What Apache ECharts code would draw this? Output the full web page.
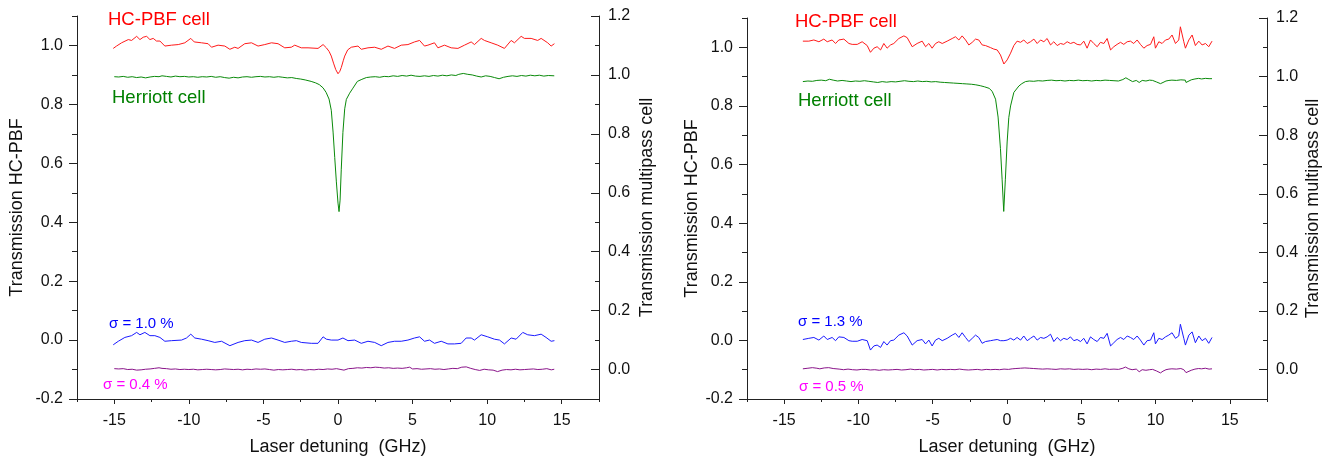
<!DOCTYPE html>
<html>
<head>
<meta charset="utf-8">
<script src="https://cdn.jsdelivr.net/npm/echarts@6/dist/echarts.min.js"></script>
<style>
  html, body { margin: 0; padding: 0; background: #fff; }
  #chart { width: 1330px; height: 461px; }
</style>
</head>
<body>
<div id="chart"></div>
<script>
// ---- data (x in GHz, y transmission) ----
const leftHcpbf = [[-15.07,0.990],[-14.85,0.998],[-14.51,1.009],[-14.06,1.020],[-13.84,1.017],[-13.5,1.031],[-13.28,1.020],[-13.06,1.028],[-12.83,1.031],[-12.61,1.020],[-12.39,1.024],[-12.17,1.015],[-11.94,1.015],[-11.61,0.998],[-11.16,1.001],[-10.71,1.003],[-10.27,1.009],[-9.87,1.024],[-9.64,1.012],[-9.15,1.009],[-8.71,1.006],[-8.48,0.994],[-8.04,1.001],[-7.59,0.998],[-7.25,0.987],[-6.92,0.994],[-6.70,0.990],[-6.25,1.006],[-5.80,1.009],[-5.36,0.998],[-4.91,1.003],[-4.46,1.009],[-4.02,1.006],[-3.57,0.992],[-3.13,0.994],[-2.90,1.001],[-2.46,0.992],[-2.01,0.992],[-1.34,0.990],[-1.00,1.003],[-0.78,0.992],[-0.6,0.980],[-0.45,0.964],[-0.3,0.940],[-0.15,0.918],[0.0,0.904],[0.12,0.912],[0.22,0.925],[0.35,0.948],[0.45,0.964],[0.65,0.985],[0.89,0.994],[1.34,0.998],[1.56,0.987],[2.01,0.992],[2.46,0.994],[2.90,0.987],[3.35,0.998],[3.79,0.990],[4.24,1.001],[4.69,1.003],[5.13,1.012],[5.47,1.017],[5.80,0.998],[6.03,1.001],[6.47,1.009],[6.70,0.992],[7.14,1.001],[7.59,0.992],[8.04,0.990],[8.48,1.001],[8.93,1.012],[9.15,1.003],[9.60,1.024],[9.82,1.017],[10.27,1.009],[10.71,1.001],[11.16,0.990],[11.61,1.017],[11.83,1.009],[12.28,1.031],[12.5,1.024],[12.95,1.024],[13.39,1.017],[13.62,1.024],[14.06,1.009],[14.29,0.998],[14.51,1.006]];

const leftHcpbfResidual = [[-15.07,-0.016],[-14.73,-0.004],[-14.29,0.009],[-13.84,0.015],[-13.5,0.026],[-13.28,0.018],[-12.95,0.026],[-12.61,0.015],[-12.28,0.015],[-11.94,0.009],[-11.61,-0.004],[-11.16,-0.002],[-10.49,0.0],[-10.16,0.007],[-9.87,0.020],[-9.6,0.007],[-9.15,0.003],[-8.71,-0.002],[-8.26,-0.008],[-7.81,-0.004],[-7.25,-0.019],[-6.70,-0.008],[-6.25,-0.002],[-5.80,0.0],[-5.36,-0.008],[-4.91,0.003],[-4.46,0.007],[-4.02,0.0],[-3.57,-0.008],[-3.13,-0.004],[-2.79,-0.002],[-2.46,-0.008],[-1.79,-0.011],[-1.34,-0.011],[-1.0,0.011],[-0.78,0.003],[-0.45,0.0],[0.0,0.0],[0.33,0.007],[0.67,-0.002],[1.12,0.0],[1.56,-0.011],[2.01,-0.004],[2.46,-0.008],[2.90,-0.019],[3.35,-0.008],[3.79,-0.004],[4.24,-0.004],[4.69,0.0],[5.13,0.007],[5.47,0.011],[5.80,-0.004],[6.14,0.0],[6.47,-0.011],[6.92,-0.004],[7.37,-0.013],[7.81,-0.013],[8.26,-0.011],[8.59,0.007],[8.93,0.007],[9.15,0.0],[9.6,0.018],[10.04,0.011],[10.49,0.003],[10.83,0.0],[11.16,-0.013],[11.61,0.007],[11.94,0.003],[12.39,0.026],[12.72,0.018],[13.17,0.015],[13.62,0.020],[13.95,0.009],[14.29,-0.004],[14.51,-0.002]];

const leftHerriott = [[-15.0,0.994],[-14.7,0.993],[-14.4,0.995],[-14.1,0.992],[-13.8,0.994],[-13.5,0.991],[-13.2,0.993],[-12.9,0.990],[-12.6,0.993],[-12.3,0.995],[-12.0,0.994],[-11.8,0.997],[-11.5,0.995],[-11.2,0.993],[-10.9,0.996],[-10.6,0.994],[-10.3,0.995],[-10.0,0.993],[-9.7,0.994],[-9.4,0.992],[-9.1,0.994],[-8.8,0.993],[-8.5,0.995],[-8.2,0.992],[-7.9,0.994],[-7.6,0.991],[-7.3,0.989],[-7.0,0.992],[-6.7,0.990],[-6.4,0.993],[-6.1,0.994],[-5.8,0.992],[-5.5,0.994],[-5.2,0.995],[-4.9,0.993],[-4.6,0.994],[-4.3,0.992],[-4.0,0.994],[-3.7,0.992],[-3.4,0.990],[-3.1,0.991],[-2.8,0.988],[-2.5,0.986],[-2.2,0.983],[-1.8,0.978],[-1.5,0.973],[-1.25,0.967],[-1.0,0.956],[-0.8,0.941],[-0.6,0.918],[-0.45,0.88],[-0.33,0.806],[-0.22,0.72],[-0.11,0.637],[0.0,0.565],[0.07,0.536],[0.14,0.575],[0.22,0.68],[0.33,0.805],[0.45,0.885],[0.56,0.917],[0.78,0.938],[1.0,0.955],[1.3,0.978],[1.6,0.985],[1.9,0.991],[2.2,0.993],[2.5,0.994],[2.8,0.992],[3.1,0.995],[3.4,0.994],[3.7,0.997],[4.0,0.995],[4.3,0.998],[4.6,0.996],[4.9,0.999],[5.2,0.996],[5.5,0.995],[5.8,0.997],[6.1,0.995],[6.4,0.998],[6.7,0.996],[7.0,0.999],[7.3,0.997],[7.6,1.000],[7.9,0.998],[8.1,1.002],[8.4,1.005],[8.7,1.002],[9.0,1.000],[9.3,0.996],[9.6,0.993],[9.9,0.997],[10.2,0.995],[10.5,0.991],[10.8,0.987],[11.1,0.992],[11.4,0.995],[11.7,0.997],[12.0,0.995],[12.3,0.998],[12.6,0.996],[12.9,0.999],[13.2,0.997],[13.5,0.999],[13.8,0.996],[14.1,0.998],[14.5,0.997]];

const leftHerriottResidual = [[-15.0,0.003],[-14.7,0.002],[-14.4,0.003],[-14.1,0.000],[-13.8,0.001],[-13.5,-0.002],[-13.2,-0.001],[-12.9,0.001],[-12.6,0.002],[-12.3,0.004],[-12.0,0.006],[-11.8,0.004],[-11.5,0.003],[-11.2,0.001],[-10.9,0.002],[-10.6,0.000],[-10.3,0.001],[-10.0,0.000],[-9.7,0.001],[-9.4,-0.001],[-9.1,0.000],[-8.8,0.001],[-8.5,0.000],[-8.2,-0.001],[-7.9,0.000],[-7.6,0.002],[-7.3,0.001],[-7.0,0.000],[-6.7,0.001],[-6.4,-0.001],[-6.1,0.001],[-5.8,0.000],[-5.5,0.002],[-5.2,0.001],[-4.9,0.002],[-4.6,0.000],[-4.3,-0.002],[-4.0,0.000],[-3.7,-0.001],[-3.4,0.000],[-3.1,0.001],[-2.8,-0.001],[-2.5,0.000],[-2.2,-0.002],[-1.9,0.000],[-1.6,-0.001],[-1.3,0.001],[-1.0,0.000],[-0.7,0.002],[-0.4,0.001],[-0.1,0.003],[0.2,0.000],[0.4,-0.002],[0.7,0.003],[1.0,0.004],[1.3,0.006],[1.6,0.005],[1.9,0.007],[2.2,0.006],[2.5,0.008],[2.8,0.007],[3.1,0.005],[3.4,0.006],[3.7,0.004],[4.0,0.005],[4.3,0.004],[4.6,0.006],[4.8,0.008],[5.0,0.002],[5.3,0.003],[5.6,0.001],[5.9,0.002],[6.2,0.003],[6.5,0.001],[6.8,0.002],[7.1,0.000],[7.4,0.002],[7.7,0.004],[8.0,0.003],[8.3,0.008],[8.6,0.009],[8.9,0.004],[9.2,0.000],[9.5,-0.003],[9.8,0.001],[10.1,-0.001],[10.4,-0.002],[10.7,-0.007],[11.0,-0.002],[11.3,0.000],[11.6,-0.001],[11.9,0.001],[12.2,-0.001],[12.5,0.000],[12.8,0.001],[13.1,0.002],[13.4,0.000],[13.7,0.001],[14.0,0.003],[14.3,-0.001],[14.5,0.001]];

const rightHcpbf = [[-13.74,1.021],[-13.34,1.021],[-13.0,1.025],[-12.66,1.019],[-12.33,1.028],[-12.1,1.019],[-11.77,1.025],[-11.54,1.013],[-11.32,1.025],[-10.98,1.028],[-10.64,1.013],[-10.42,1.010],[-10.08,1.010],[-9.75,1.019],[-9.41,1.006],[-9.19,0.983],[-8.96,0.997],[-8.74,1.002],[-8.51,0.991],[-8.29,1.013],[-8.07,0.997],[-7.84,1.008],[-7.62,1.013],[-7.28,1.030],[-6.94,1.039],[-6.72,1.033],[-6.38,1.002],[-6.05,1.013],[-5.71,1.021],[-5.48,1.002],[-5.26,1.013],[-5.04,0.997],[-4.81,1.013],[-4.59,1.019],[-4.36,1.013],[-4.03,1.021],[-3.69,1.030],[-3.47,1.036],[-3.24,1.025],[-3.02,1.039],[-2.79,1.025],[-2.57,1.008],[-2.34,1.017],[-2.12,1.028],[-1.9,1.025],[-1.67,1.008],[-1.45,1.006],[-1.11,0.999],[-0.89,0.994],[-0.66,0.991],[-0.44,0.974],[-0.21,0.943],[0.01,0.957],[0.24,0.980],[0.46,1.006],[0.68,1.021],[0.91,1.017],[1.13,1.025],[1.36,1.013],[1.58,1.019],[1.81,1.028],[2.03,1.013],[2.26,1.025],[2.48,1.019],[2.7,1.030],[2.93,1.008],[3.15,1.019],[3.38,1.006],[3.6,1.013],[3.82,1.010],[4.05,1.019],[4.27,1.013],[4.5,1.017],[4.72,1.010],[4.95,1.008],[5.17,1.021],[5.39,0.997],[5.62,1.025],[5.84,1.013],[6.07,1.002],[6.29,1.017],[6.52,1.013],[6.74,1.030],[6.97,0.991],[7.19,1.002],[7.41,1.010],[7.64,1.017],[7.86,1.010],[8.09,1.019],[8.31,1.021],[8.53,1.013],[8.76,1.025],[8.98,1.010],[9.21,0.997],[9.43,1.006],[9.66,1.010],[9.88,1.036],[9.99,0.997],[10.22,1.019],[10.44,1.013],[10.67,1.025],[10.89,1.028],[11.11,1.042],[11.34,1.013],[11.56,1.025],[11.67,1.070],[11.9,1.019],[12.01,0.997],[12.24,1.025],[12.46,1.042],[12.68,1.006],[12.91,1.021],[13.13,1.008],[13.36,1.013],[13.58,1.002],[13.8,1.021]];

const rightHcpbfResidual = [[-13.74,0.003],[-13.34,0.007],[-13.0,0.010],[-12.66,0.001],[-12.33,0.015],[-12.1,0.003],[-11.77,0.010],[-11.54,-0.001],[-11.32,0.012],[-10.98,0.010],[-10.64,-0.001],[-10.42,-0.003],[-10.08,-0.003],[-9.75,0.003],[-9.41,-0.001],[-9.19,-0.033],[-8.96,-0.019],[-8.74,-0.016],[-8.51,-0.024],[-8.29,-0.004],[-8.07,-0.016],[-7.84,-0.001],[-7.62,0.001],[-7.28,0.018],[-6.94,0.026],[-6.72,0.015],[-6.38,-0.016],[-6.05,-0.001],[-5.71,0.003],[-5.48,-0.012],[-5.26,0.001],[-5.04,-0.019],[-4.81,0.001],[-4.59,0.007],[-4.36,-0.001],[-4.03,0.007],[-3.69,0.018],[-3.47,0.024],[-3.24,0.010],[-3.02,0.026],[-2.79,0.010],[-2.57,-0.004],[-2.34,0.007],[-2.12,0.018],[-1.9,0.010],[-1.67,-0.010],[-1.45,-0.004],[-1.11,-0.001],[-0.89,0.001],[-0.66,0.003],[-0.44,-0.001],[-0.21,-0.001],[0.01,0.001],[0.24,0.007],[0.46,0.001],[0.68,0.010],[0.91,0.001],[1.13,0.015],[1.36,-0.001],[1.58,0.007],[1.81,0.015],[2.03,0.001],[2.26,0.010],[2.48,0.007],[2.7,0.012],[2.93,0.021],[3.15,-0.004],[3.38,0.010],[3.6,-0.001],[3.82,0.007],[4.05,0.003],[4.27,0.012],[4.5,-0.001],[4.72,0.003],[4.95,-0.004],[5.17,0.007],[5.39,-0.012],[5.62,0.012],[5.84,0.003],[6.07,-0.004],[6.29,0.010],[6.52,0.007],[6.74,0.024],[6.97,-0.019],[7.19,-0.008],[7.41,0.003],[7.64,0.010],[7.86,0.003],[8.09,0.015],[8.31,0.010],[8.53,0.003],[8.76,0.015],[8.98,0.001],[9.21,-0.016],[9.43,-0.001],[9.66,0.001],[9.88,0.026],[9.99,-0.012],[10.22,0.007],[10.44,0.003],[10.67,0.012],[10.89,0.018],[11.11,0.026],[11.34,0.007],[11.56,0.015],[11.67,0.055],[11.9,0.007],[12.01,-0.016],[12.24,0.018],[12.46,0.029],[12.68,-0.008],[12.91,0.015],[13.13,-0.001],[13.36,0.007],[13.58,-0.010],[13.8,0.010]];

const rightHerriott = [[-13.74,0.983],[-13.4,0.985],[-13.1,0.984],[-12.8,0.987],[-12.5,0.988],[-12.2,0.986],[-11.95,0.991],[-11.7,0.988],[-11.4,0.985],[-11.1,0.987],[-10.8,0.985],[-10.5,0.983],[-10.2,0.985],[-9.9,0.984],[-9.6,0.986],[-9.3,0.984],[-9.0,0.982],[-8.7,0.980],[-8.4,0.983],[-8.1,0.981],[-7.8,0.983],[-7.5,0.982],[-7.2,0.984],[-6.9,0.986],[-6.6,0.984],[-6.3,0.983],[-6.0,0.985],[-5.7,0.983],[-5.4,0.984],[-5.1,0.982],[-4.8,0.983],[-4.5,0.981],[-4.2,0.980],[-3.9,0.979],[-3.6,0.978],[-3.3,0.977],[-3.0,0.976],[-2.7,0.975],[-2.4,0.974],[-2.1,0.972],[-1.8,0.969],[-1.5,0.965],[-1.2,0.960],[-1.0,0.950],[-0.77,0.923],[-0.6,0.862],[-0.44,0.754],[-0.33,0.65],[-0.22,0.540],[-0.11,0.65],[0.01,0.777],[0.12,0.86],[0.24,0.90],[0.46,0.946],[0.8,0.968],[1.0,0.976],[1.24,0.983],[1.5,0.985],[1.8,0.984],[2.1,0.986],[2.4,0.985],[2.7,0.987],[3.0,0.988],[3.3,0.986],[3.6,0.987],[3.9,0.985],[4.2,0.987],[4.5,0.986],[4.8,0.988],[5.1,0.986],[5.4,0.987],[5.7,0.985],[6.0,0.987],[6.3,0.986],[6.6,0.988],[6.9,0.987],[7.2,0.986],[7.5,0.985],[7.8,0.990],[8.0,0.996],[8.2,0.990],[8.45,0.983],[8.7,0.987],[8.9,0.980],[9.1,0.987],[9.35,0.985],[9.6,0.988],[9.8,0.987],[10.05,0.982],[10.33,0.976],[10.5,0.980],[10.7,0.985],[10.9,0.987],[11.1,0.988],[11.4,0.987],[11.7,0.989],[12.0,0.988],[12.05,0.980],[12.4,0.989],[12.65,0.992],[12.9,0.994],[13.1,0.992],[13.35,0.994],[13.6,0.993],[13.8,0.993]];

const rightHerriottResidual = [[-13.74,0.003],[-13.4,0.005],[-13.1,0.007],[-12.8,0.005],[-12.6,0.003],[-12.3,0.006],[-12.0,0.007],[-11.7,0.004],[-11.3,0.002],[-11.0,0.000],[-10.7,0.002],[-10.4,0.000],[-10.1,-0.001],[-9.8,0.001],[-9.5,0.001],[-9.2,-0.001],[-8.9,0.000],[-8.6,-0.002],[-8.3,0.000],[-8.0,-0.001],[-7.7,0.000],[-7.4,0.001],[-7.1,-0.001],[-6.8,0.000],[-6.5,0.002],[-6.2,0.000],[-5.9,0.001],[-5.6,-0.001],[-5.3,0.000],[-5.0,0.001],[-4.7,-0.001],[-4.4,0.001],[-4.1,0.000],[-3.8,0.001],[-3.5,0.000],[-3.2,0.002],[-2.9,0.000],[-2.6,-0.001],[-2.3,0.000],[-2.0,0.001],[-1.7,-0.001],[-1.4,0.001],[-1.1,0.000],[-0.8,0.001],[-0.5,0.000],[-0.2,0.002],[0.1,0.001],[0.35,0.003],[0.6,0.004],[0.9,0.005],[1.2,0.006],[1.5,0.005],[1.8,0.004],[2.1,0.003],[2.4,0.002],[2.7,0.003],[3.0,0.002],[3.3,0.001],[3.6,0.003],[3.9,0.002],[4.2,0.003],[4.5,0.001],[4.8,0.002],[5.1,0.001],[5.4,0.002],[5.7,0.000],[6.0,0.002],[6.3,0.001],[6.6,0.003],[6.9,0.001],[7.2,0.002],[7.5,0.001],[7.8,0.005],[7.97,0.009],[8.2,0.003],[8.42,0.000],[8.7,0.002],[8.9,-0.007],[9.1,0.000],[9.35,-0.002],[9.6,0.000],[9.8,0.001],[10.05,-0.004],[10.33,-0.011],[10.5,-0.005],[10.7,0.000],[10.9,0.002],[11.1,0.003],[11.4,0.002],[11.7,0.004],[11.9,0.000],[12.05,-0.010],[12.4,-0.002],[12.65,0.002],[12.9,0.004],[13.1,0.003],[13.35,0.005],[13.6,0.002],[13.8,0.003]];

// tick values
const xMajorTicks = [-15, -10, -5, 0, 5, 10, 15];
const xMinorTicks = [-17.5, -12.5, -7.5, -2.5, 2.5, 7.5, 12.5, 17.5];
const yLeftMajor = [-0.2, 0.0, 0.2, 0.4, 0.6, 0.8, 1.0];
const yLeftMinor = [-0.1, 0.1, 0.3, 0.5, 0.7, 0.9, 1.1];
const yRightMajor = [0.0, 0.2, 0.4, 0.6, 0.8, 1.0, 1.2];
const yRightMinor = [-0.1, 0.1, 0.3, 0.5, 0.7, 0.9, 1.1];

const FONT = 'Liberation Sans, Arial, sans-serif';
const AXIS_COLOR = '#222';
const TEXT_COLOR = '#111';
const TICK_FONT = 16;

function xAxes(grid) {
  return [
    {
      gridIndex: grid, type: 'value', position: 'bottom', min: -17.5, max: 17.5,
      name: 'Laser detuning  (GHz)', nameLocation: 'middle', nameGap: 39,
      nameTextStyle: { fontSize: 18, color: TEXT_COLOR, fontFamily: FONT },
      axisLine: { show: true, onZero: false, lineStyle: { color: AXIS_COLOR, width: 1 } },
      axisTick: { show: true, length: 5, customValues: xMajorTicks, lineStyle: { color: AXIS_COLOR } },
      axisLabel: { customValues: xMajorTicks, margin: 14, fontSize: TICK_FONT, color: TEXT_COLOR, fontFamily: FONT,
                   formatter: v => String(v) },
      splitLine: { show: false }
    },
    {
      gridIndex: grid, type: 'value', position: 'bottom', min: -17.5, max: 17.5,
      axisLine: { show: false, onZero: false },
      axisTick: { show: true, length: 3, customValues: xMinorTicks, lineStyle: { color: AXIS_COLOR } },
      axisLabel: { show: false },
      splitLine: { show: false }
    }
  ];
}

function yAxes(grid, leftGap, rightGap) {
  return [
    {
      gridIndex: grid, type: 'value', position: 'left', min: -0.2, max: 1.1,
      name: 'Transmission HC-PBF', nameLocation: 'middle', nameGap: leftGap,
      nameTextStyle: { fontSize: 18, color: TEXT_COLOR, fontFamily: FONT },
      axisLine: { show: true, onZero: false, lineStyle: { color: AXIS_COLOR, width: 1 } },
      axisTick: { show: true, length: 8, customValues: yLeftMajor, lineStyle: { color: AXIS_COLOR } },
      axisLabel: { customValues: yLeftMajor, margin: 14, fontSize: TICK_FONT, color: TEXT_COLOR, fontFamily: FONT,
                   formatter: v => v.toFixed(1) },
      splitLine: { show: false }
    },
    {
      gridIndex: grid, type: 'value', position: 'left', min: -0.2, max: 1.1,
      axisLine: { show: false, onZero: false },
      axisTick: { show: true, length: 5, customValues: yLeftMinor, lineStyle: { color: AXIS_COLOR } },
      axisLabel: { show: false },
      splitLine: { show: false }
    },
    {
      gridIndex: grid, type: 'value', position: 'right', min: -0.1, max: 1.2,
      name: 'Transmission multipass cell', nameLocation: 'middle', nameGap: rightGap,
      nameTextStyle: { fontSize: 18, color: TEXT_COLOR, fontFamily: FONT },
      axisLine: { show: true, onZero: false, lineStyle: { color: AXIS_COLOR, width: 1 } },
      axisTick: { show: true, inside: true, length: 8, customValues: yRightMajor, lineStyle: { color: AXIS_COLOR } },
      axisLabel: { customValues: yRightMajor, margin: 9, fontSize: TICK_FONT, color: TEXT_COLOR, fontFamily: FONT,
                   formatter: v => v.toFixed(1) },
      splitLine: { show: false }
    },
    {
      gridIndex: grid, type: 'value', position: 'right', min: -0.1, max: 1.2,
      axisLine: { show: false, onZero: false },
      axisTick: { show: true, inside: true, length: 4, customValues: yRightMinor, lineStyle: { color: AXIS_COLOR } },
      axisLabel: { show: false },
      splitLine: { show: false }
    }
  ];
}

function line(data, xi, yi, color) {
  return {
    type: 'line', data: data, xAxisIndex: xi, yAxisIndex: yi,
    symbol: 'none', smooth: false, clip: false,
    lineStyle: { color: color, width: 1 }, itemStyle: { color: color }
  };
}

function label(text, left, top, color, size) {
  return { type: 'text', left: left, top: top,
           style: { text: text, fill: color, fontSize: size, fontFamily: FONT } };
}

const RED = '#ff1a1a', GREEN = '#0a8a0a', BLUE = '#1a1aff', PURPLE = '#8a148a', MAGENTA = '#ff00ff';

const chart = echarts.init(document.getElementById('chart'));
chart.setOption({
  animation: false,
  backgroundColor: '#fff',
  grid: [
    { left: 77, right: 731, top: 16, bottom: 59 },
    { left: 747, right: 63, top: 18, bottom: 59 }
  ],
  xAxis: [...xAxes(0), ...xAxes(1)],
  yAxis: [...yAxes(0, 51, 39), ...yAxes(1, 44, 37)],
  series: [
    line(leftHcpbf, 0, 0, RED),
    line(leftHcpbfResidual, 0, 0, BLUE),
    line(leftHerriott, 0, 2, GREEN),
    line(leftHerriottResidual, 0, 2, PURPLE),
    line(rightHcpbf, 2, 4, RED),
    line(rightHcpbfResidual, 2, 4, BLUE),
    line(rightHerriott, 2, 6, GREEN),
    line(rightHerriottResidual, 2, 6, PURPLE)
  ],
  graphic: [
    label('HC-PBF cell', 108, 10, '#ff0000', 18.5),
    label('Herriott cell', 112, 88, '#008000', 18.5),
    label('σ = 1.0 %', 109, 316, '#0000ff', 15),
    label('σ = 0.4 %', 103, 377, MAGENTA, 15),
    label('HC-PBF cell', 795, 12, '#ff0000', 18.5),
    label('Herriott cell', 798, 91, '#008000', 18.5),
    label('σ = 1.3 %', 798, 314, '#0000ff', 15),
    label('σ = 0.5 %', 799, 379, MAGENTA, 15)
  ]
});
</script>
</body>
</html>
